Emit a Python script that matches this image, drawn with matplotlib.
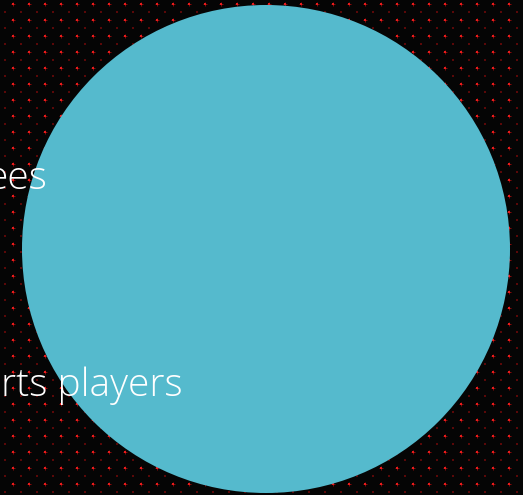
import numpy as np
import matplotlib.pyplot as plt
import matplotlib.patches as patches

# Visible parts of the (cropped) diagram labels, and where each ends / sits
labels = ["ees", "rts players"]
label_right = [48, 183]
label_baseline = [189, 396]

circle_color = "#55BACD"

W, H = 523, 495
fig = plt.figure(figsize=(W / 100, H / 100), dpi=100)
fig.patch.set_facecolor("#050505")
ax = fig.add_axes([0, 0, 1, 1])
ax.set_xlim(0, W)
ax.set_ylim(H, 0)
ax.axis("off")

# dotted background texture
bx, by = np.meshgrid(np.arange(12.5, W, 16), np.arange(3.5, H, 16))
ax.scatter(bx.ravel(), by.ravel(), s=5, marker="+", color="#8a0a0a",
           linewidths=0.7, zorder=1)
ax.scatter(bx.ravel(), by.ravel(), s=1.2, marker="s", color="#e81c1c",
           linewidths=0, zorder=1)
dx, dy = np.meshgrid(np.arange(4.5, W, 16), np.arange(11.5, H, 16))
ax.scatter(dx.ravel(), dy.ravel(), s=1.8, marker="s", color="#5a0808",
           linewidths=0, zorder=1)

circle = patches.Circle((266, 249), 244, facecolor=circle_color,
                        edgecolor="none", zorder=2)
ax.add_patch(circle)

for lab, xr, yb in zip(labels, label_right, label_baseline):
    ax.text(xr, yb, lab, ha="right", va="baseline", color="white",
            fontsize=28, family=["Open Sans", "DejaVu Sans"], fontweight=300,
            zorder=3)

fig.savefig("out.png", dpi=100, facecolor=fig.get_facecolor())
